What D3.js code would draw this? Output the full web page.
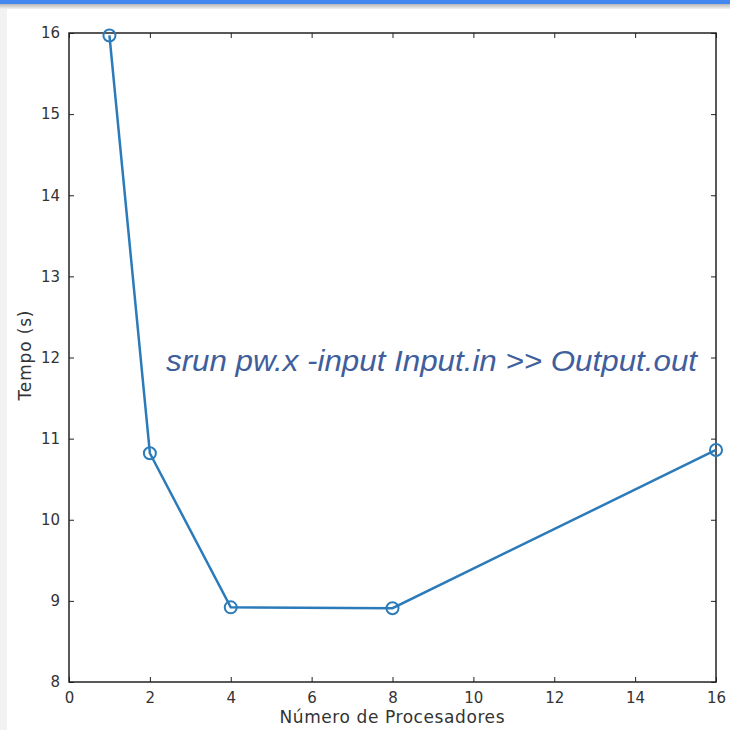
<!DOCTYPE html>
<html>
<head>
    <meta charset="utf-8">
    <title>Tempo vs Número de Procesadores</title>
    <script src="https://d3js.org/d3.v7.min.js"></script>
    <style>
        body {
            margin: 0;
            background-color: #f2f2f2;
            font-family: "DejaVu Sans", sans-serif;
        }
        .topbar {
            position: absolute;
            left: 0; top: 0;
            width: 730px; height: 4px;
            background-color: #4487ee;
        }
        .shade {
            position: absolute;
            left: 0; top: 4px;
            width: 730px; height: 5px;
            background: linear-gradient(#b8b8b8, #f2f2f2);
        }
        svg {
            position: absolute;
            left: 7px; top: 9px;
            background-color: white;
        }
        .line {
            fill: none;
            stroke: #2b7bba;
            stroke-width: 2.5px;
        }
        .dot {
            fill: none;
            stroke: #2b7bba;
            stroke-width: 2px;
        }
        .axis text {
            font-family: "DejaVu Sans", sans-serif;
            font-size: 15px;
            fill: #333;
        }
        .axis path, .axis line {
            stroke: #222;
        }
        .label {
            font-family: "DejaVu Sans", sans-serif;
            font-size: 17px;
            fill: #333;
        }
    </style>
</head>
<body>
    <div class="topbar"></div>
    <div class="shade"></div>
    <svg width="723" height="721"></svg>

    <script>
        const procs = [1, 2, 4, 8, 16];
        const times = [15.97, 10.82, 8.92, 8.91, 10.86];
        const xTicks = [0, 2, 4, 6, 8, 10, 12, 14, 16];
        const yTicks = [8, 9, 10, 11, 12, 13, 14, 15, 16];

        const svg = d3.select("svg"),
              margin = { top: 24, right: 14, bottom: 48, left: 62 },
              width = +svg.attr("width") - margin.left - margin.right,
              height = +svg.attr("height") - margin.top - margin.bottom;

        const g = svg.append("g").attr("transform", `translate(${margin.left},${margin.top})`);

        const x = d3.scaleLinear().domain([0, 16]).range([0, width]);
        const y = d3.scaleLinear().domain([8, 16]).range([height, 0]);

        // frame
        g.append("rect")
         .attr("width", width)
         .attr("height", height)
         .attr("fill", "none")
         .attr("stroke", "#222")
         .attr("stroke-width", 1.5);

        // axes with inward ticks
        g.append("g")
         .attr("class", "axis")
         .attr("transform", `translate(0,${height})`)
         .call(d3.axisBottom(x).tickValues(xTicks).tickSizeInner(-5).tickSizeOuter(0).tickPadding(10))
         .call(a => a.select(".domain").remove());

        g.append("g")
         .attr("class", "axis")
         .call(d3.axisTop(x).tickValues(xTicks).tickSizeInner(-5).tickSizeOuter(0).tickFormat(""))
         .call(a => a.select(".domain").remove());

        g.append("g")
         .attr("class", "axis")
         .call(d3.axisLeft(y).tickValues(yTicks).tickSizeInner(-5).tickSizeOuter(0).tickPadding(9))
         .call(a => a.select(".domain").remove());

        g.append("g")
         .attr("class", "axis")
         .attr("transform", `translate(${width},0)`)
         .call(d3.axisRight(y).tickValues(yTicks).tickSizeInner(-5).tickSizeOuter(0).tickFormat(""))
         .call(a => a.select(".domain").remove());

        // axis labels
        g.append("text")
         .attr("class", "label")
         .attr("x", 323)
         .attr("y", height + 41)
         .attr("text-anchor", "middle")
         .attr("textLength", 225)
         .text("Número de Procesadores");

        g.append("text")
         .attr("class", "label")
         .attr("transform", `translate(-38,${height / 2 - 2}) rotate(-90)`)
         .attr("text-anchor", "middle")
         .attr("textLength", 90)
         .text("Tempo (s)");

        // line + markers
        const data = procs.map((p, i) => ({ p: p, t: times[i] }));

        g.append("path")
         .datum(data)
         .attr("class", "line")
         .attr("d", d3.line().x(d => x(d.p)).y(d => y(d.t)));

        g.selectAll(".dot")
         .data(data)
         .enter()
         .append("circle")
         .attr("class", "dot")
         .attr("cx", d => x(d.p))
         .attr("cy", d => y(d.t))
         .attr("r", 6);

        // annotation
        g.append("text")
         .attr("x", 97)
         .attr("y", 338)
         .attr("font-family", "'Liberation Sans', Arial, sans-serif")
         .attr("font-style", "italic")
         .attr("font-size", "30px")
         .attr("textLength", 531)
         .attr("lengthAdjust", "spacingAndGlyphs")
         .attr("fill", "#3f5e9c")
         .text("srun pw.x -input Input.in >> Output.out");
    </script>
</body>
</html>
